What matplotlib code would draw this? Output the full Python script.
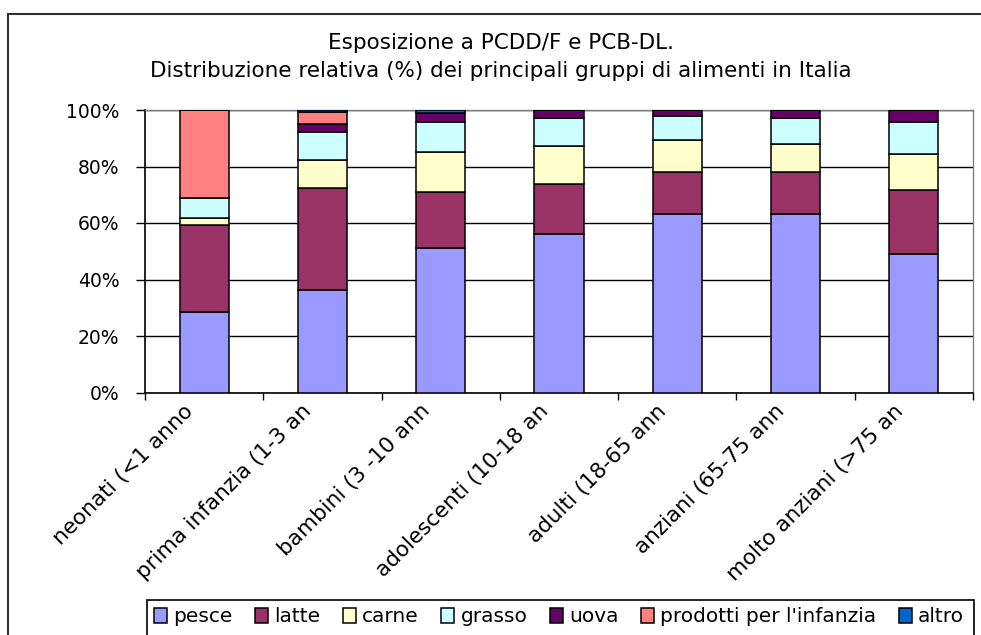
import matplotlib
matplotlib.use("Agg")
import matplotlib.pyplot as plt
import numpy as np
from matplotlib.patches import Rectangle
from matplotlib.ticker import FixedLocator, PercentFormatter
import matplotlib.transforms as mtransforms

plt.rcParams['font.family'] = ['DejaVu Sans']

categories = ["neonati (<1 anno", "prima infanzia (1-3 an", "bambini (3 -10 ann",
              "adolescenti (10-18 an", "adulti (18-65 ann", "anziani (65-75 ann",
              "molto anziani (>75 an"]
series_names = ["pesce", "latte", "carne", "grasso", "uova", "prodotti per l'infanzia", "altro"]
pesce = [28.4, 36.3, 51.1, 56.0, 63.1, 63.1, 48.9]
latte = [30.9, 36.0, 19.8, 17.8, 14.9, 14.9, 22.8]
carne = [2.4, 10.1, 14.2, 13.3, 11.5, 9.9, 12.7]
grasso = [7.1, 9.8, 10.6, 10.1, 8.5, 9.3, 11.3]
uova = [0.0, 2.9, 3.4, 2.8, 2.0, 2.8, 4.3]
infanzia = [31.2, 4.2, 0.0, 0.0, 0.0, 0.0, 0.0]
altro = [0.0, 0.7, 0.9, 0.0, 0.0, 0.0, 0.0]
colors = ["#9999FF", "#993366", "#FFFFCC", "#CCFFFF", "#660066", "#FF8080", "#0066CC"]
title = "Esposizione a PCDD/F e PCB-DL.\nDistribuzione relativa (%) dei principali gruppi di alimenti in Italia"
yticks = [0, 20, 40, 60, 80, 100]

W, H = 981, 635
fig = plt.figure(figsize=(W / 100, H / 100), dpi=100)
ax = fig.add_axes([145 / W, 1 - 392.5 / H, (973 - 145) / W, (392.5 - 110) / H])

x = np.arange(len(categories))
bottom = np.zeros(len(categories))
handles = []
for name, vals, col in zip(series_names,
                           [pesce, latte, carne, grasso, uova, infanzia, altro], colors):
    vals = np.array(vals)
    b = ax.bar(x, vals, 0.415, bottom=bottom, color=col, edgecolor="black",
               linewidth=1.1, label=name, zorder=3)
    handles.append(b)
    bottom = bottom + vals

ax.set_xlim(-0.5, len(categories) - 0.5)
ax.set_ylim(0, 100)
ax.yaxis.set_major_locator(FixedLocator(yticks))
ax.yaxis.set_major_formatter(PercentFormatter(decimals=0))
ax.grid(axis='y', color='black', linewidth=1.0, zorder=0)
ax.tick_params(axis='y', length=6.5, width=1.0, pad=12, labelsize=13.5, direction='out')

ax.set_xticks(x)
ax.set_xticklabels(categories, rotation=45, ha='right', va='center',
                   rotation_mode='anchor', fontsize=15.5)
ax.tick_params(axis='x', which='major', length=0, pad=11)
ax.xaxis.set_minor_locator(FixedLocator(np.arange(-0.5, len(categories), 1.0)))
ax.tick_params(axis='x', which='minor', length=5, width=1.0, direction='out')
off = mtransforms.ScaledTranslation(-14 / 100, 0, fig.dpi_scale_trans)
for lab in ax.get_xticklabels():
    lab.set_transform(lab.get_transform() + off)

for s in ['left', 'bottom']:
    ax.spines[s].set_color('black')
    ax.spines[s].set_linewidth(1.2)
for s in ['top', 'right']:
    ax.spines[s].set_color('#808080')
    ax.spines[s].set_linewidth(1.0)

fig.text(501 / W, 1 - 57 / H, title, ha='center', va='center', fontsize=15.5,
         linespacing=1.5)

# outer chart frame
fig.patches.append(Rectangle((8 / W, -0.2), 1.2, 0.2 + 1 - 14 / H, transform=fig.transFigure,
                             fill=False, edgecolor='#303030', linewidth=1.5, zorder=0))
# legend frame
fig.patches.append(Rectangle((147 / W, -0.2), (974 - 147) / W, 0.2 + 1 - 600 / H,
                             transform=fig.transFigure, fill=False, edgecolor='black',
                             linewidth=1.2, zorder=1))

leg = fig.legend(handles=handles, labels=series_names, loc='center left',
                 bbox_to_anchor=(154 / W, 1 - 617 / H), ncol=7, frameon=False,
                 fontsize=14.5, handlelength=0.65, handleheight=0.75, handletextpad=0.3,
                 columnspacing=1.12, borderpad=0, borderaxespad=0)

fig.savefig("out.png", dpi=100)
